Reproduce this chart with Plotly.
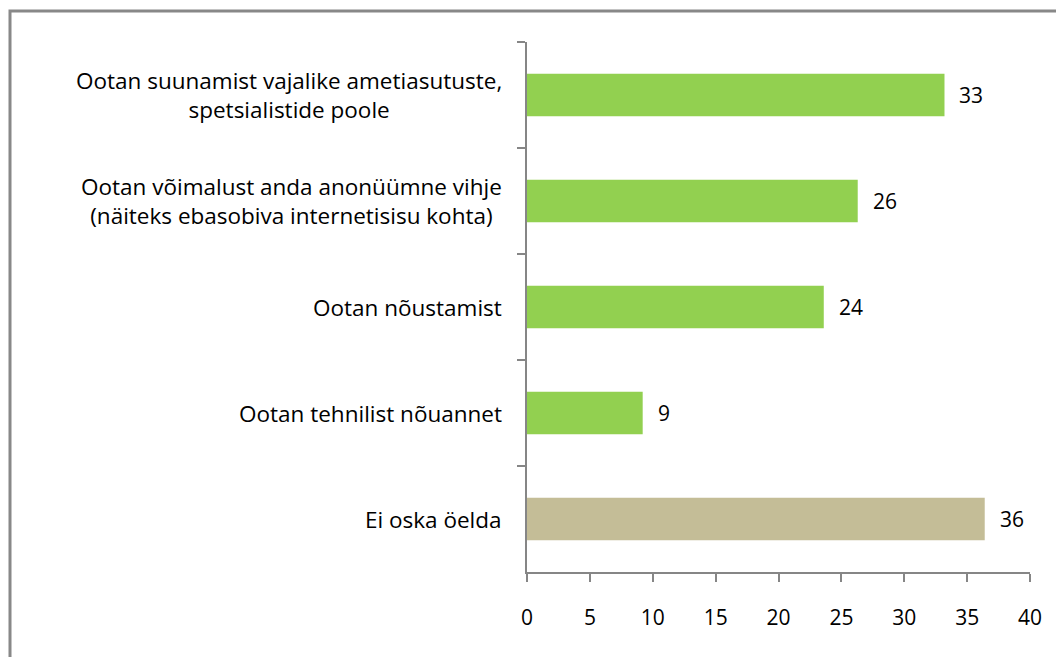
import plotly.graph_objects as go

categories = [
    "Ootan suunamist vajalike ametiasutuste,<br>spetsialistide poole",
    "Ootan võimalust anda anonüümne vihje<br>(näiteks ebasobiva internetisisu kohta)",
    "Ootan nõustamist",
    "Ootan tehnilist nõuannet",
    "Ei oska öelda",
]
values = [33.2, 26.3, 23.6, 9.2, 36.4]
colors = ["#92D050", "#92D050", "#92D050", "#92D050", "#C4BD97"]
x_ticks = [0, 5, 10, 15, 20, 25, 30, 35, 40]

FONT = "Open Sans"
axis_col = "#868686"

fig = go.Figure(go.Bar(
    x=values, y=categories, orientation="h",
    marker=dict(color=colors, line=dict(width=0)),
    hoverinfo="x+y",
))

annotations = []
for c, v in zip(categories, values):
    annotations.append(dict(
        x=v, y=c, xref="x", yref="y", text=f"{v:.0f}",
        showarrow=False, xanchor="left", xshift=13,
        font=dict(family=FONT, size=21, color="#000000"),
    ))
    annotations.append(dict(
        x=0, y=c, xref="paper", yref="y", text=c,
        showarrow=False, xanchor="right", align="center", xshift=-23,
        font=dict(family=FONT, size=22.5, color="#000000"),
    ))

fig.update_layout(
    width=1064, height=657,
    margin=dict(l=519, r=42, t=34, b=93),
    paper_bgcolor="white", plot_bgcolor="white",
    bargap=0.6,
    showlegend=False,
    annotations=annotations,
    shapes=[dict(type="rect", xref="paper", yref="paper",
                 x0=(10 - 527) / 503, x1=(1075 - 527) / 503,
                 y0=(572 - 670) / 530, y1=(572 - 11) / 530,
                 line=dict(color="#888888", width=3), fillcolor="rgba(0,0,0,0)",
                 layer="below")],
    xaxis=dict(
        range=[0, 40], tickvals=x_ticks, ticktext=[str(t) for t in x_ticks],
        showgrid=False, zeroline=False, showline=True, linecolor=axis_col, linewidth=1.5,
        ticks="outside", ticklen=8, tickcolor=axis_col, tickwidth=1.5,
        ticklabelstandoff=18,
        tickfont=dict(family=FONT, size=21, color="#000000"),
        fixedrange=True,
    ),
    yaxis=dict(
        categoryorder="array", categoryarray=categories, autorange="reversed",
        showgrid=False, zeroline=False, showline=True, linecolor=axis_col, linewidth=1.5,
        ticks="outside", ticklen=8, tickcolor=axis_col, tickwidth=1.5,
        tickson="boundaries", showticklabels=False,
        fixedrange=True,
    ),
)

fig.write_html("out.html")
